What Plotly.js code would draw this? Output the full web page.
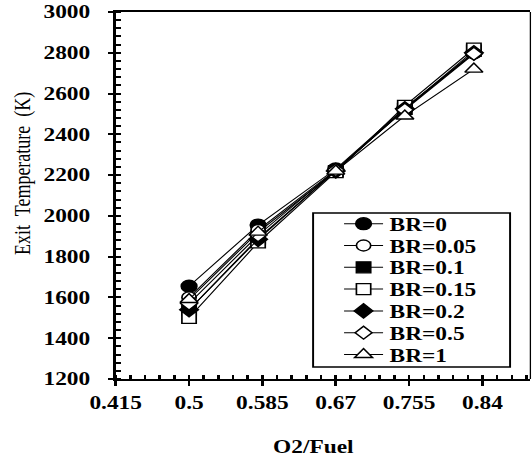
<!DOCTYPE html>
<html>
<head>
<meta charset="utf-8">
<script src="https://cdn.plot.ly/plotly-3.0.1.min.js"></script>
<style>
html, body { margin: 0; padding: 0; background: #fff; overflow: hidden; }
#chart { width: 409px; height: 460px; transform: scaleX(1.3); transform-origin: 0 0; }
</style>
</head>
<body>
<div id="chart"></div>
<script>
// ---- data ----
const o2Fuel = [0.5, 0.58, 0.67, 0.75, 0.83];
const seriesNames = ['BR=0', 'BR=0.05', 'BR=0.1', 'BR=0.15', 'BR=0.2', 'BR=0.5', 'BR=1'];
const br0   = [1655, 1955, 2230, 2530, 2800];
const br005 = [1600, 1930, 2225, 2525, 2800];
const br01  = [1540, 1890, 2220, 2525, 2810];
const br015 = [1500, 1870, 2215, 2540, 2820];
const br02  = [1540, 1885, 2220, 2525, 2800];
const br05  = [1570, 1905, 2225, 2520, 2795];
const br1   = [1590, 1920, 2220, 2490, 2720];
const xTickVals = [0.415, 0.5, 0.585, 0.67, 0.755, 0.84];
const xTickText = ['0.415', '0.5', '0.585', '0.67', '0.755', '0.84'];
const yTickVals = [1200, 1400, 1600, 1800, 2000, 2200, 2400, 2600, 2800, 3000];

const allSeries = [br0, br005, br01, br015, br02, br05, br1];
const symbols = ['circle', 'circle', 'square', 'square', 'diamond', 'diamond', 'triangle-up'];
const filled = [true, false, true, false, true, false, false];
const sizes = [12, 11, 11, 11, 11, 10, 12];

const FONT = '"Liberation Serif", "Times New Roman", serif';

// legend entries: one small legend per series so the row spacing can follow the reference
const legendIds = seriesNames.map((_, i) => i === 0 ? 'legend' : 'legend' + (i + 1));
const legendTopPx = 224, legendStepPx = 21.8, plotBottomPx = 379, plotHeightPx = 367;

const traces = allSeries.map((ys, i) => ({
  x: o2Fuel,
  y: ys,
  name: seriesNames[i],
  legend: legendIds[i],
  type: 'scatter',
  mode: 'lines+markers',
  line: { color: '#000', width: 1 },
  marker: {
    symbol: symbols[i],
    size: sizes[i],
    color: filled[i] ? '#000' : '#fff',
    line: { color: '#000', width: 1.3 }
  }
}));

const layout = {
  width: 409,
  height: 460,
  margin: { l: 89, r: 1, t: 12, b: 81 },
  paper_bgcolor: '#fff',
  plot_bgcolor: '#fff',
  showlegend: true,
  font: { family: FONT, color: '#000', size: 18 },
  xaxis: {
    range: [0.415, 0.8955],
    tickvals: xTickVals,
    ticktext: xTickText,
    ticks: 'outside',
    ticklen: 5,
    tickwidth: 2,
    tickcolor: '#000',
    ticklabelstandoff: 1,
    tickfont: { family: FONT, size: 18, weight: 'bold', color: '#000' },
    minor: { dtick: 0.017, tick0: 0.415, ticks: 'inside', ticklen: 4, tickwidth: 2, tickcolor: '#000', showgrid: false },
    showline: true,
    linewidth: 2,
    linecolor: '#000',
    mirror: true,
    showgrid: false,
    zeroline: false,
    fixedrange: true
  },
  xaxis2: {
    overlaying: 'x',
    anchor: 'y',
    side: 'bottom',
    range: [0.415, 0.8955],
    tickvals: xTickVals,
    ticks: 'inside',
    ticklen: 5,
    tickwidth: 2,
    tickcolor: '#000',
    showticklabels: false,
    showline: false,
    showgrid: false,
    zeroline: false
  },
  yaxis: {
    range: [1200, 3000],
    tickvals: yTickVals,
    ticks: 'outside',
    ticklen: 4,
    tickwidth: 2,
    tickcolor: '#000',
    ticklabelstandoff: 10,
    tickfont: { family: FONT, size: 18, weight: 'bold', color: '#000' },
    minor: { dtick: 40, tick0: 1200, ticks: 'inside', ticklen: 4, tickwidth: 2, tickcolor: '#000', showgrid: false },
    showline: true,
    linewidth: 2,
    linecolor: '#000',
    mirror: false,
    showgrid: false,
    zeroline: false,
    fixedrange: true
  },
  yaxis2: {
    overlaying: 'y',
    anchor: 'x',
    side: 'left',
    range: [1200, 3000],
    tickvals: yTickVals,
    ticks: 'inside',
    ticklen: 4,
    tickwidth: 2,
    tickcolor: '#000',
    showticklabels: false,
    showline: false,
    showgrid: false,
    zeroline: false
  },
  shapes: [
    { type: 'line', xref: 'paper', yref: 'paper', x0: 1, x1: 1, y0: 0, y1: 1, line: { color: '#000', width: 1 } },
    { type: 'rect', xref: 'paper', yref: 'paper', x0: 0.476, x1: 0.951, y0: 0.033, y1: 0.452,
      fillcolor: '#fff', line: { color: '#000', width: 1.5 }, layer: 'above' }
  ],
  annotations: [
    { text: 'Exit\u00A0 Temperature\u00A0 (K)', xref: 'paper', yref: 'paper', x: -0.226, y: 0.561,
      xanchor: 'center', yanchor: 'middle', textangle: -90, showarrow: false,
      font: { family: FONT, size: 18, color: '#000' } },
    { text: '<b>O2/Fuel</b>', xref: 'paper', yref: 'paper', x: 0.478, y: -0.185,
      xanchor: 'center', yanchor: 'middle', showarrow: false,
      font: { family: FONT, size: 18, color: '#000' } }
  ]
};

legendIds.forEach((id, i) => {
  const centerPx = legendTopPx + i * legendStepPx;
  layout[id] = {
    x: 0.535, y: (plotBottomPx - centerPx) / plotHeightPx,
    xanchor: 'left', yanchor: 'middle',
    bgcolor: 'rgba(0,0,0,0)',
    borderwidth: 0,
    font: { family: FONT, size: 18, weight: 'bold', color: '#000' }
  };
});

Plotly.newPlot('chart', traces, layout, { displayModeBar: false, staticPlot: true });
</script>
</body>
</html>
